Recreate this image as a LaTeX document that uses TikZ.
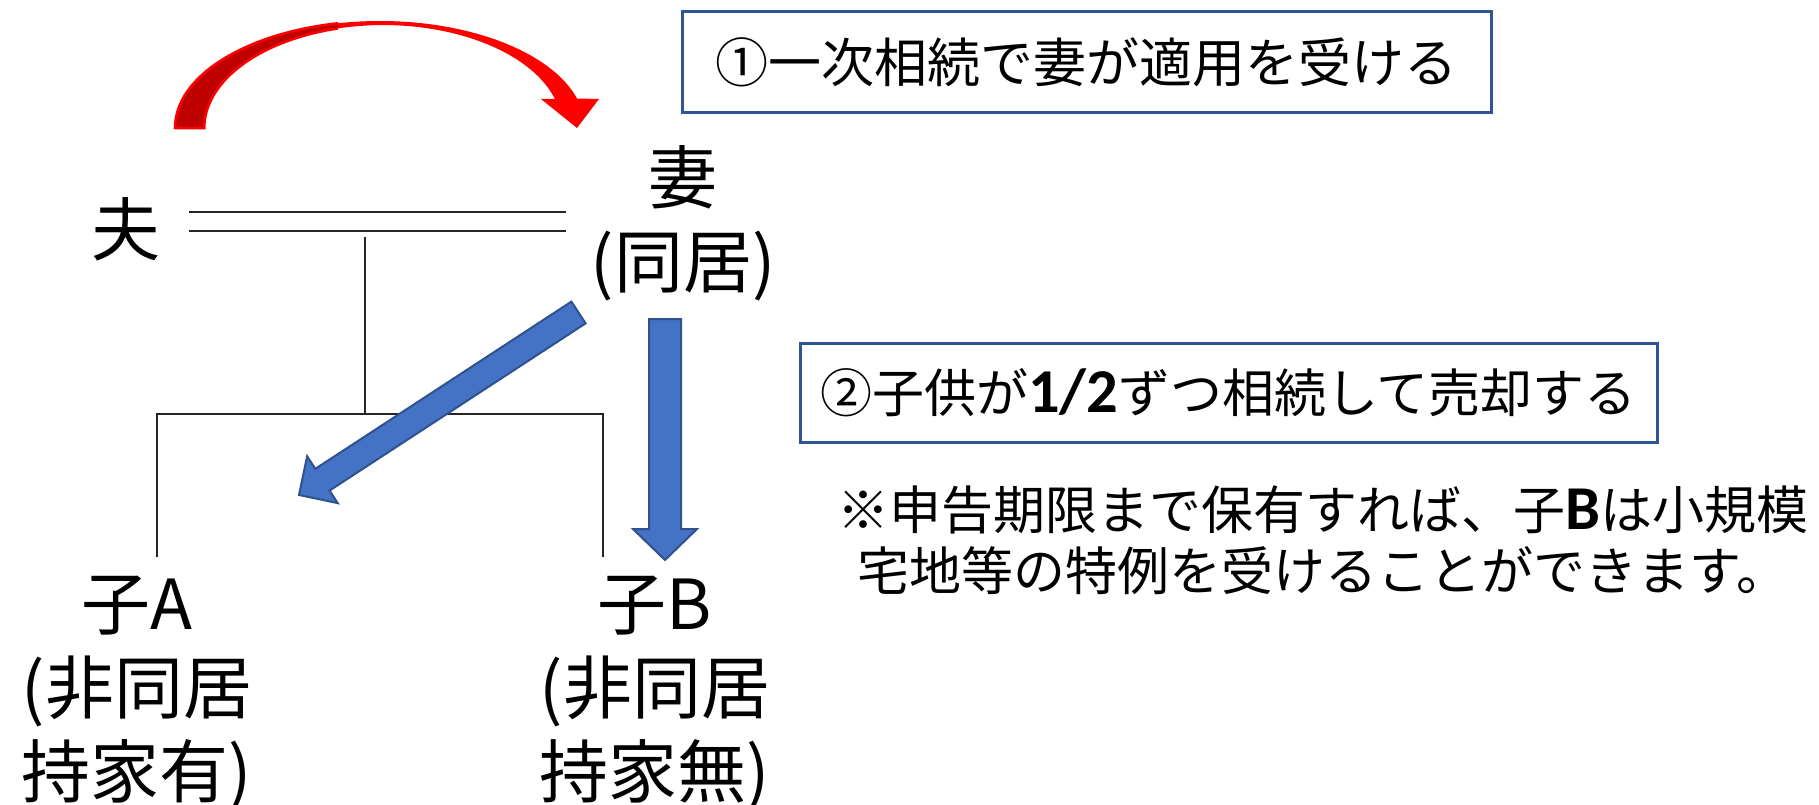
\documentclass[tikz,border=0pt]{standalone}
\usepackage{fontspec}
\setmainfont{Noto Sans CJK JP}
\newfontfamily\carlito[Scale=1.2]{Carlito}
\usetikzlibrary{calc}
\definecolor{arrowblue}{HTML}{4472C4}
\definecolor{arrowedge}{HTML}{2F528F}
\definecolor{boxedge}{HTML}{2F5597}
\definecolor{darkred}{HTML}{C00000}
\definecolor{brightred}{HTML}{FF0000}
\newcommand\blockarrow[5]{%
  \coordinate (ba-h) at ($(#2)!#5!(#1)$);
  \draw[blockarrowstyle] ($(#1)!#3!90:(#2)$) -- ($(ba-h)!#3!90:(#2)$) -- ($(ba-h)!#4!90:(#2)$) -- (#2) -- ($(ba-h)!#4!-90:(#2)$) -- ($(ba-h)!#3!-90:(#2)$) -- ($(#1)!#3!-90:(#2)$) -- cycle;}
\begin{document}
\begin{tikzpicture}[x=1pt,y=-1pt,
  person/.style={font=\fontsize{69}{84}\selectfont, align=center, inner sep=0pt, anchor=base},
  famline/.style={line width=1.5pt, draw=black!85},
  infobox/.style={draw=boxedge, line width=3pt, inner sep=0pt},
  blockarrowstyle/.style={fill=arrowblue, draw=arrowedge, line width=2pt, line join=miter},
  redband/.style={fill=brightred}]
\useasboundingbox (0,0) rectangle (1819,805);

% red curved arrow
\fill[redband] (175,128) arc[start angle=180,end angle=344,x radius=205,y radius=107] -- (599,99) -- (577,128) -- (541,99) -- (555,99) arc[start angle=343.6,end angle=180,x radius=179,y radius=103] -- cycle;
\begin{scope}
\clip (0,0) rectangle (338,140);
\filldraw[fill=darkred, draw=brightred, line width=2.5pt] (175,128) arc[start angle=180,end angle=344,x radius=205,y radius=107] -- (599,99) -- (577,128) -- (541,99) -- (555,99) arc[start angle=343.6,end angle=180,x radius=179,y radius=103] -- cycle;
\end{scope}

% persons (base anchor = baseline of the last line)
\node[person] (husband) at (126,255) {夫};
\node[person] (wife) at (683,287) {妻\\(同居)};
\node[person] (childA) at (137,797) {子A\\(非同居\\持家有)};
\node[person] (childB) at (655,797) {子B\\(非同居\\持家無)};

% family lines
\coordinate (dblAL) at (189,212); \coordinate (dblAR) at (566,212);
\coordinate (dblBL) at (189,231); \coordinate (dblBR) at (566,231);
\coordinate (stemtop) at (365,237); \coordinate (stembot) at (365,414);
\coordinate (barL) at (157,414); \coordinate (barR) at (603,414);
\coordinate (legA) at (157,557); \coordinate (legB) at (603,557);
\draw[famline] (dblAL) -- (dblAR);
\draw[famline] (dblBL) -- (dblBR);
\draw[famline] (stemtop) -- (stembot);
\draw[famline] (legA) -- (barL) -- (barR) -- (legB);

% blue arrows
\coordinate (a1tail) at (578.5,312.5); \coordinate (a1tip) at (299,495);
\blockarrow{a1tail}{a1tip}{13pt}{28pt}{28pt}
\coordinate (a2tail) at (665,319); \coordinate (a2tip) at (665,560);
\blockarrow{a2tail}{a2tip}{16pt}{32pt}{31pt}

% boxes
\node[infobox, minimum width=809pt, minimum height=101pt, font=\fontsize{53}{60}\selectfont] (box1) at (1086.5,62.5) {①一次相続で妻が適用を受ける};
\node[infobox, minimum width=857pt, minimum height=99pt, font=\fontsize{52}{60}\selectfont] (box2) at (1228.5,392.5) {②子供が{\carlito\bfseries 1/2}ずつ相続して売却する};

% note
\node[font=\fontsize{52}{61}\selectfont, align=center, inner sep=0pt, anchor=base] (note) at (1323,590) {※申告期限まで保有すれば、子{\carlito\bfseries B}は小規模\\宅地等の特例を受けることができます。};
\end{tikzpicture}
\end{document}
